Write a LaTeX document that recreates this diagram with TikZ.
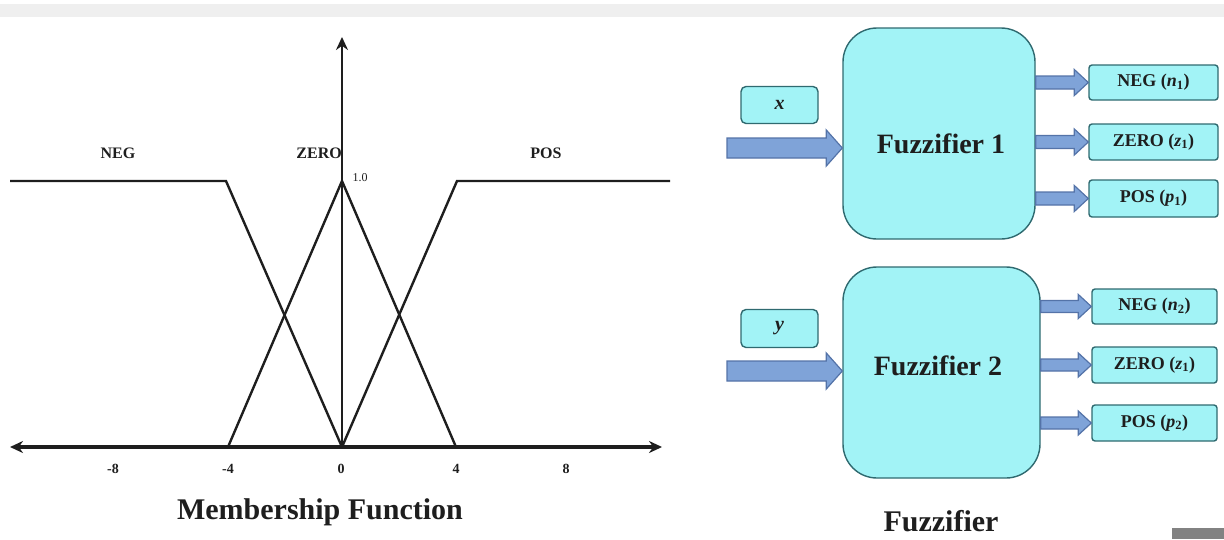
\documentclass[tikz,border=0pt]{standalone}
\usepackage{fontspec}
\setmainfont{Liberation Serif}
\usetikzlibrary{arrows.meta,calc}
\definecolor{boxfill}{HTML}{A2F3F6}
\definecolor{boxline}{HTML}{2F6A70}
\definecolor{arrfill}{HTML}{7FA3D8}
\definecolor{arrline}{HTML}{5473A8}
\definecolor{ink}{HTML}{1E1E1E}
\definecolor{band}{HTML}{EFEFEF}
\newcommand\blockarr[5]{%
  \path let \p1=(#1), \p2=(#2) in
  [draw=arrline, fill=arrfill, line width=1.2pt, line join=miter]
  (\x1,\y1+#3pt) -- (\x2-#5pt,\y1+#3pt) -- (\x2-#5pt,\y1+#4pt) -- (\x2,\y1)
  -- (\x2-#5pt,\y1-#4pt) -- (\x2-#5pt,\y1-#3pt) -- (\x1,\y1-#3pt) -- cycle;}
\begin{document}
\begin{tikzpicture}[x=1pt,y=-1pt,
  axisline/.style={draw=ink,line width=3.4pt},
  mfline/.style={draw=ink,line width=2.4pt,line join=miter},
  setlbl/.style={text=ink,font=\fontsize{16}{18}\selectfont\bfseries},
  ticklbl/.style={text=ink,font=\fontsize{14}{16}\selectfont\bfseries},
  bigtitle/.style={text=ink,font=\fontsize{30}{32}\selectfont\bfseries},
  fuzzbox/.style={draw=boxline,fill=boxfill,line width=1.4pt,rounded corners=34pt,minimum width=192pt,minimum height=211pt,inner sep=0pt},
  inbox/.style={draw=boxline,fill=boxfill,line width=1.4pt,rounded corners=5pt,minimum width=77pt,minimum height=37pt,inner sep=0pt,text=ink,font=\fontsize{20}{22}\selectfont\bfseries\itshape},
  outbox/.style={draw=boxline,fill=boxfill,line width=1.4pt,rounded corners=3pt,minimum width=129pt,minimum height=35pt,inner sep=0pt,text=ink,font=\fontsize{18}{20}\selectfont\bfseries},
  fuzztxt/.style={text=ink,font=\fontsize{28}{30}\selectfont\bfseries}]
\useasboundingbox (0,0) rectangle (1224,539);
\fill[band] (0,4) rectangle (1224,17);
\fill[gray!60!black!70] (1172,528) rectangle (1224,539);

% ---------- membership function ----------
\coordinate (xl) at (10,447);
\coordinate (xr) at (662,447);
\coordinate (o) at (342,447);
\coordinate (yt) at (342,37);
\coordinate (nl) at (10,181);
\coordinate (nk) at (226,181);
\coordinate (zl) at (228,447);
\coordinate (zt) at (342,181);
\coordinate (zr) at (456,447);
\coordinate (pk) at (457,181);
\coordinate (pr) at (670,181);

\draw[mfline] (nl) -- (nk) -- (o);
\draw[mfline] (zl) -- (zt) -- (zr);
\draw[mfline] (o) -- (pk) -- (pr);
\draw[axisline,{Stealth[length=13pt,width=12pt]}-{Stealth[length=13pt,width=12pt]}] (xl) -- (xr);
\draw[axisline,line width=2.8pt,-{Stealth[length=13pt,width=12pt]}] (o) -- (yt);

\node[setlbl] (lneg) at (118,153) {NEG};
\node[setlbl,anchor=east,inner sep=0pt] (lzero) at (342,153) {ZERO};
\node[setlbl] (lpos) at (546,153) {POS};
\node[text=ink,font=\fontsize{12}{14}\selectfont,anchor=west] (lone) at (349,178) {1.0};

\node[ticklbl] (t1) at (113,469) {-8};
\node[ticklbl] (t2) at (228,469) {-4};
\node[ticklbl] (t3) at (341,469) {0};
\node[ticklbl] (t4) at (456,469) {4};
\node[ticklbl] (t5) at (566,469) {8};

\node[bigtitle] (mft) at (320,512) {Membership Function};

% ---------- fuzzifier 1 ----------
\node[fuzzbox] (f1) at (939,133.5) {};
\node[fuzztxt] (f1t) at (941,144) {Fuzzifier 1};
\node[inbox] (xb) at (779.5,105) {x};
\coordinate (in1) at (727,148);
\blockarr{in1}{f1.west |- in1}{10}{18}{16}

\node[outbox] (n1) at (1153.5,82.5) {NEG ({\itshape n}\textsubscript{1})};
\node[outbox,minimum height=36pt] (z1) at (1153.5,142) {ZERO ({\itshape z}\textsubscript{1})};
\node[outbox,minimum height=37pt] (p1) at (1153.5,198.5) {POS ({\itshape p}\textsubscript{1})};
\blockarr{f1.east |- n1}{n1.west}{6.5}{13}{14}
\blockarr{f1.east |- z1}{z1.west}{6.5}{13}{14}
\blockarr{f1.east |- p1}{p1.west}{6.5}{13}{14}

% ---------- fuzzifier 2 ----------
\node[fuzzbox,minimum width=197pt] (f2) at (941.5,372.5) {};
\node[fuzztxt] (f2t) at (938,366) {Fuzzifier 2};
\node[inbox,minimum height=38pt] (yb) at (779.5,328.5) {y};
\coordinate (in2) at (727,371);
\blockarr{in2}{f2.west |- in2}{10}{18}{16}

\node[outbox,minimum width=125pt] (n2) at (1154.5,306.5) {NEG ({\itshape n}\textsubscript{2})};
\node[outbox,minimum width=125pt,minimum height=36pt] (z2) at (1154.5,365) {ZERO ({\itshape z}\textsubscript{1})};
\node[outbox,minimum width=125pt,minimum height=36pt] (p2) at (1154.5,423) {POS ({\itshape p}\textsubscript{2})};
\blockarr{f2.east |- n2}{n2.west}{6}{12}{13}
\blockarr{f2.east |- z2}{z2.west}{6}{12}{13}
\blockarr{f2.east |- p2}{p2.west}{6}{12}{13}

\node[bigtitle] (fzt) at (941,521) {Fuzzifier};
\end{tikzpicture}
\end{document}
